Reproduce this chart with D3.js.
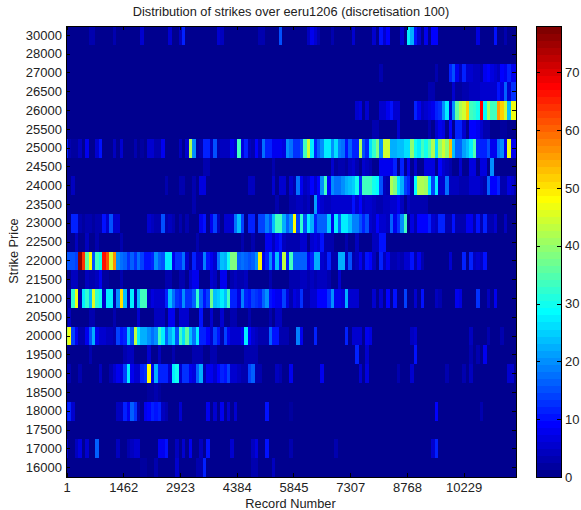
<!DOCTYPE html>
<html>
<head>
<meta charset="utf-8">
<script src="https://cdn.jsdelivr.net/npm/d3@7/dist/d3.min.js"></script>
<style>
  html, body { margin: 0; background: #fff; }
  text { font-family: "Liberation Sans", Arial, sans-serif; fill: #222; }
</style>
</head>
<body>
<div id="graph"></div>
<script>
// strike rows, top to bottom
var strikes = [30000, 28000, 27000, 26500, 26000, 25500, 25000, 24500, 24000, 23500, 23000, 22500,
               22000, 21500, 21000, 20500, 20000, 19500, 19000, 18500, 18000, 17500, 17000, 16000];
var recordTicks = [1, 1462, 2923, 4384, 5845, 7307, 8768, 10229];
var colorTicks = [0, 10, 20, 30, 40, 50, 60, 70];
var nCols = 131, maxCount = 78, lastRecord = 11578;

// [column, count], anything not listed is background
var s30000 = [[7,3],[8,3],[14,3],[22,6],[30,5],[33,4],[34,12],[44,5],[45,4],[56,3],[57,3],[62,15],[70,4],[71,8],[72,5],[73,3],[77,3],[83,6],[89,5],[91,10],[92,5],[93,9],[97,5],[99,27],[100,23],[101,10],[102,6],[104,8],[106,9],[107,9],[119,7],[124,10],[127,3]];
var s28000 = [];
var s27000 = [[91,3],[107,3],[111,11],[112,15],[113,8],[114,4],[115,11],[116,5],[117,5],[118,4],[119,4],[120,3],[121,8],[122,9],[123,7],[124,6],[125,4],[126,9],[127,8],[128,12],[129,8],[130,8]];
var s26500 = [[105,3],[106,3],[112,5],[113,2],[114,2],[115,3],[116,3],[117,4],[118,4],[119,4],[120,5],[121,5],[122,5],[123,6],[124,6],[125,10],[126,7],[127,16],[128,6],[129,13],[130,13]];
var s26000 = [[84,5],[85,7],[87,5],[91,5],[92,6],[93,8],[94,10],[95,6],[96,5],[101,12],[102,8],[103,4],[104,5],[105,7],[106,8],[107,12],[108,13],[109,20],[110,27],[111,5],[112,20],[113,36],[114,42],[115,44],[116,52],[117,34],[118,32],[119,30],[120,68],[121,29],[122,41],[123,34],[124,33],[125,55],[126,52],[127,44],[128,24],[129,47],[130,47]];
var s25500 = [[89,3],[90,3],[96,5],[105,3],[107,5],[108,8],[109,7],[111,9],[113,11],[114,11],[115,6],[117,9],[118,9],[119,8],[120,6],[121,3],[122,3],[126,2],[127,2]];
var s25000 = [[0,11],[1,3],[2,2],[3,2],[4,4],[6,8],[9,6],[10,10],[14,4],[16,6],[20,3],[22,2],[24,5],[25,5],[26,3],[27,3],[28,8],[33,4],[35,6],[36,42],[37,20],[38,2],[39,3],[40,11],[41,12],[42,4],[43,15],[44,3],[45,4],[46,4],[47,4],[48,8],[49,6],[50,34],[51,7],[52,11],[53,4],[54,3],[55,9],[56,4],[57,18],[58,11],[59,11],[60,8],[61,8],[62,8],[63,7],[64,20],
  [65,18],[66,13],[67,13],[68,15],[69,33],[70,45],[71,28],[72,12],[73,17],[74,20],[75,28],[76,27],[77,20],[78,26],[79,19],[80,18],[81,10],[82,17],[83,11],[84,11],[85,42],[86,15],[87,12],[88,26],[89,32],[90,38],[91,20],[92,45],[93,45],[94,22],[95,22],[96,24],[97,24],[98,26],[99,26],[100,40],[101,30],[102,28],[103,33],[104,30],[105,35],[106,42],[107,26],[108,40],[109,44],[110,40],[111,53],[112,24],[113,17],[114,17],[115,21],[116,24],[117,28],[118,35],[119,11],[120,11],[121,11],[122,15],[123,8],[124,8],[125,18],[126,20],[127,8],[128,47],[129,8],[130,8]];
var s24500 = [[40,3],[41,3],[60,3],[77,6],[78,2],[79,3],[80,3],[81,2],[82,4],[83,5],[84,3],[86,6],[87,4],[88,3],[91,8],[92,8],[93,8],[94,8],[95,12],[97,12],[99,8],[101,5],[104,7],[105,7],[106,7],[108,9],[109,5],[110,4],[111,3],[114,5],[117,7],[118,7],[120,7],[121,7],[123,20]];
var s24000 = [[2,4],[29,3],[33,3],[34,3],[37,3],[39,7],[40,7],[53,4],[54,4],[60,5],[62,6],[63,6],
  [65,6],[66,3],[67,18],[68,8],[69,4],[70,5],[71,9],[72,6],[73,9],[74,20],[75,34],[76,9],[77,20],[78,18],[79,18],[80,20],[81,22],[82,24],[83,25],[84,30],[85,13],[86,33],[87,34],[88,33],[89,30],[90,29],[91,15],[92,4],[93,3],[94,42],[95,38],[96,27],[97,22],[98,14],[99,12],[100,3],[101,29],[102,42],[103,42],[104,41],[105,28],[106,14],[107,28],[108,5],[109,6],[110,18],[111,4],[112,4],[113,4],[114,3],[115,3],[116,3],[117,5],[118,6],[119,5],[120,4],[121,3],[122,16],[123,9],[124,9],[125,12],[126,3],[127,3],[128,7],[129,5],[130,3]];
var s23500 = [[37,3],[61,3],[65,3],[66,3],[67,4],[68,4],[69,3],[70,4],[72,21],[73,8],[74,6],[75,4],[76,4],[77,6],[78,6],[79,6],[80,6],[81,5],[82,5],[83,10],[84,6],[85,9],[86,4],[87,5],[88,5],[89,4],[90,3],[91,3],[92,4],[93,4],[94,5],[95,6],[96,8],[97,4],[99,4],[100,3],[101,3],[102,3],[103,3],[104,3]];
var s23000 = [[2,11],[3,11],[4,3],[5,2],[6,3],[7,3],[8,2],[9,3],[10,3],[11,10],[12,5],[13,15],[14,6],[15,5],[24,5],[25,4],[26,3],[27,3],[28,15],[29,3],[30,4],[31,3],[33,3],[35,3],[39,8],[40,10],[42,8],[43,14],[44,4],[46,6],[47,6],[48,5],[49,18],[50,24],[51,14],[53,12],[54,12],[56,14],[57,14],[58,19],[59,15],[60,24],[61,33],[62,33],[63,22],[64,17],
  [65,20],[66,48],[67,14],[68,32],[69,15],[70,27],[71,23],[72,12],[73,16],[74,17],[75,17],[76,25],[77,8],[78,27],[79,17],[80,27],[81,28],[82,24],[83,19],[84,19],[85,15],[86,12],[87,15],[88,5],[89,4],[90,9],[91,6],[92,5],[93,4],[94,17],[95,8],[96,13],[97,20],[98,33],[100,7],[101,3],[102,9],[103,9],[104,9],[105,12],[106,5],[107,4],[108,11],[109,11],[110,3],[111,3],[112,10],[113,3],[114,3],[115,3],[116,8],[117,8],[118,3],[119,10],[120,3],[121,11],[122,3],[123,3],[124,5],[127,4]];
var s22500 = [[3,4],[6,4],[9,3],[16,3],[38,3],[51,3],[54,3],[58,8],[59,8],[60,4],[61,8],[62,10],[63,4],[64,3],[65,3],[66,3],[67,3],[68,6],[69,6],[71,6],[72,7],[73,6],[74,10],[75,3],[76,3],[77,3],[81,3],[84,4],[89,4],[90,4],[91,10],[92,10]];
var s22000 = [[0,15],[1,15],[2,15],[3,14],[4,76],[5,64],[6,36],[7,48],[8,15],[9,33],[10,30],[11,67],[12,62],[13,44],[14,57],[15,20],[16,18],[17,16],[18,13],[19,16],[20,13],[21,18],[22,14],[23,10],[24,10],[25,12],[26,20],[27,17],[28,15],[29,28],[30,28],[31,8],[32,13],[33,13],[34,18],[35,6],[36,2],[37,11],[38,5],[39,5],[40,19],[41,10],[42,8],[43,6],[44,18],[45,24],[46,23],[47,30],[48,38],[49,38],[50,17],[51,18],[52,17],[53,15],[54,17],[55,20],[56,49],[57,8],[58,11],[59,20],[60,10],[61,24],[62,11],[63,43],[64,12],
  [65,34],[66,17],[67,17],[68,17],[69,17],[70,8],[71,11],[72,22],[73,22],[74,6],[75,4],[76,11],[77,3],[78,3],[79,22],[80,22],[81,4],[82,15],[83,3],[84,4],[85,8],[86,3],[87,10],[88,9],[89,4],[91,11],[92,4],[93,8],[94,3],[95,3],[96,4],[97,3],[98,5],[99,5],[100,10],[101,3],[102,8],[103,3],[111,5],[115,12],[117,11],[118,4],[119,6],[120,4],[121,10]];
var s21500 = [[2,4],[3,4],[6,4],[7,3],[8,3],[9,4],[10,8],[11,2],[12,2],[16,3],[29,3],[30,3],[33,3],[34,3],[36,5],[37,8],[38,8],[42,5],[43,4],[45,8],[46,8],[48,3],[49,4],[50,3],[51,3],[52,4],[59,3],[65,3],[66,3],[67,3],[68,4],[69,4],[70,3],[71,4],[72,3],[73,4],[74,4],[75,4],[76,3],[79,5]];
var s21000 = [[0,2],[1,2],[2,32],[3,47],[4,3],[5,27],[6,32],[7,24],[8,46],[9,32],[10,30],[11,5],[12,28],[13,28],[14,3],[15,20],[16,50],[17,24],[18,3],[19,28],[20,3],[21,24],[22,34],[23,34],[24,4],[25,7],[26,6],[27,6],[28,6],[29,11],[30,24],[31,18],[32,13],[33,12],[34,20],[35,13],[36,13],[37,16],[38,32],[39,17],[40,10],[41,14],[42,37],[43,24],[44,25],[45,28],[46,24],[47,33],[48,11],[49,11],[50,7],[51,19],[52,12],[53,10],[54,14],[55,13],[56,12],[57,16],[58,20],[59,10],[60,9],[61,8],[62,8],[63,14],[64,7],
  [65,3],[66,7],[67,5],[68,13],[69,3],[70,3],[71,6],[72,5],[73,9],[74,9],[75,9],[76,13],[77,20],[78,8],[79,8],[80,7],[81,22],[82,6],[83,6],[84,5],[89,6],[91,5],[93,9],[95,10],[98,14],[101,5],[103,10],[107,4],[108,3],[113,8],[114,7],[119,13],[122,4],[124,8]];
var s20500 = [[1,4],[7,3],[8,3],[14,3],[21,6],[26,4],[27,4],[28,4],[30,8],[31,8],[33,5],[34,5],[35,5],[39,10],[42,5],[45,6],[48,3],[49,3],[53,3],[59,3],[61,4],[62,4]];
var s20000 = [[0,42],[1,47],[2,14],[3,8],[4,3],[5,3],[6,8],[7,15],[8,22],[9,8],[10,6],[11,5],[12,4],[13,4],[14,3],[15,14],[16,10],[17,12],[18,24],[19,15],[20,43],[21,27],[22,22],[23,22],[24,20],[25,18],[26,20],[27,33],[28,28],[29,17],[30,22],[31,26],[32,15],[33,34],[34,26],[35,36],[36,24],[37,18],[38,28],[39,12],[40,12],[41,9],[42,5],[43,14],[44,10],[45,3],[46,14],[47,8],[48,6],[49,6],[50,6],[51,8],[52,28],[53,9],[54,5],[55,4],[56,3],[57,3],[58,3],[59,17],[60,10],[61,10],[62,3],[63,3],[64,3],
  [67,19],[68,8],[72,12],[81,11],[83,5],[84,6],[85,5],[87,8],[88,7],[100,4],[101,5],[117,4],[122,3],[126,3]];
var s19500 = [[7,3],[17,3],[18,4],[19,4],[24,5],[27,4],[31,3],[37,3],[38,3],[39,3],[42,3],[43,3],[52,3],[53,3],[54,3],[55,3],[84,11],[87,5],[101,10],[117,3],[119,3],[121,8]];
var s19000 = [[0,3],[1,3],[4,3],[10,4],[13,3],[14,5],[15,8],[16,7],[17,14],[18,28],[19,8],[20,5],[21,5],[22,11],[23,13],[24,48],[25,8],[26,22],[27,12],[28,12],[29,12],[30,6],[31,28],[32,30],[33,5],[34,13],[35,13],[36,8],[37,7],[38,16],[39,22],[40,3],[41,8],[42,8],[43,6],[44,9],[45,11],[46,10],[47,14],[48,6],[49,5],[50,4],[51,3],[52,3],[53,14],[54,16],[55,3],[56,3],[61,4],[62,3],[65,8],[74,8],[85,6],[87,7],[96,3],[100,5],[110,3],[115,3],[117,4],[128,5],[129,5]];
var s18500 = [[24,2],[25,2],[26,3],[27,2]];
var s18000 = [[0,10],[1,12],[2,5],[15,4],[16,4],[17,12],[18,8],[19,16],[20,13],[21,3],[23,8],[24,9],[25,12],[26,10],[27,12],[28,4],[29,3],[33,5],[41,8],[43,6],[45,8],[47,5],[49,6],[58,10],[65,2],[107,9],[120,3]];
var s17500 = [];
var s17000 = [[0,5],[3,4],[4,7],[6,6],[9,16],[15,4],[18,3],[19,4],[20,6],[21,6],[27,8],[28,8],[29,10],[32,4],[34,5],[36,8],[39,4],[41,10],[48,6],[54,4],[55,7],[58,10],[65,3],[78,3],[106,6],[107,12]];
var s16000 = [[22,2],[23,2],[26,3],[32,5],[38,3],[39,3],[40,11],[54,3],[55,3],[60,4]];

var rows = [s30000, s28000, s27000, s26500, s26000, s25500, s25000, s24500, s24000, s23500, s23000, s22500,
            s22000, s21500, s21000, s20500, s20000, s19500, s19000, s18500, s18000, s17500, s17000, s16000];

var plot = {left: 66, top: 26, right: 516, bottom: 477};
var bar = {left: 536, right: 561};
var cellW = (plot.right - plot.left) / (nCols - 1);

// matlab jet with 64 levels
var clamp = function(v){ return Math.max(0, Math.min(1, v)); };
var jet = d3.range(1, 65).map(function(i){
  var v = i / 64;
  return d3.rgb(255 * clamp(Math.min(4*v - 1.5, 4.5 - 4*v)),
                255 * clamp(Math.min(4*v - 0.5, 3.5 - 4*v)),
                255 * clamp(Math.min(4*v + 0.5, 2.5 - 4*v))).formatHex();
});
var color = d3.scaleQuantize().domain([0, maxCount]).range(jet);

var colScale = d3.scaleLinear().domain([0, nCols - 1]).range([plot.left, plot.right]);
var recScale = d3.scaleLinear().domain([1, lastRecord]).range([plot.left + 0.5, plot.right]);
var rowScale = d3.scaleBand().domain(strikes).range([plot.top, plot.bottom]);
var barScale = d3.scaleLinear().domain([0, maxCount]).range([plot.bottom, plot.top]);

var vis = d3.select('#graph').append('svg').attr('width', 581).attr('height', 510).style('display', 'block');

vis.append('clipPath').attr('id', 'plotClip').append('rect')
  .attr('x', plot.left).attr('y', plot.top)
  .attr('width', plot.right - plot.left).attr('height', plot.bottom - plot.top);

// heat map
var cells = [];
rows.forEach(function(row, r){
  var counts = d3.range(nCols).map(function(){ return 0; });
  row.forEach(function(p){ counts[p[0]] = p[1]; });
  counts.forEach(function(c, k){ cells.push({strike: strikes[r], col: k, count: c}); });
});

vis.append('g').attr('clip-path', 'url(#plotClip)').attr('shape-rendering', 'crispEdges')
  .selectAll('rect').data(cells).enter().append('rect')
  .attr('x', function(d){ return colScale(d.col) - cellW / 2; })
  .attr('y', function(d){ return rowScale(d.strike); })
  .attr('width', cellW + 0.5)
  .attr('height', rowScale.bandwidth() + 0.5)
  .attr('fill', function(d){ return color(d.count); });

// colorbar
vis.append('g').attr('shape-rendering', 'crispEdges')
  .selectAll('rect').data(jet).enter().append('rect')
  .attr('x', bar.left)
  .attr('width', bar.right - bar.left)
  .attr('y', function(d, i){ return barScale((i + 1) * maxCount / 64); })
  .attr('height', (plot.bottom - plot.top) / 64 + 0.5)
  .attr('fill', function(d){ return d; });

var styleAxis = function(g, fontSize){
  g.select('.domain').remove();
  g.selectAll('line').attr('stroke', '#000').attr('shape-rendering', 'crispEdges');
  g.selectAll('text').attr('font-size', fontSize).attr('fill', '#222')
    .attr('font-family', '"Liberation Sans", Arial, sans-serif');
};

var tick = 4;
vis.append('g').attr('transform', 'translate(0,' + plot.bottom + ')')
  .call(d3.axisBottom(recScale).tickValues(recordTicks).tickFormat(d3.format('d')).tickSize(-tick).tickPadding(6))
  .call(styleAxis, 13);
vis.append('g').attr('transform', 'translate(0,' + plot.top + ')')
  .call(d3.axisTop(recScale).tickValues(recordTicks).tickFormat('').tickSize(-tick))
  .call(styleAxis, 13);
vis.append('g').attr('transform', 'translate(' + plot.left + ',0)')
  .call(d3.axisLeft(rowScale).tickFormat(d3.format('d')).tickSize(-tick).tickPadding(4))
  .call(styleAxis, 13);
vis.append('g').attr('transform', 'translate(' + plot.right + ',0)')
  .call(d3.axisRight(rowScale).tickFormat('').tickSize(-tick))
  .call(styleAxis, 13);
vis.append('g').attr('transform', 'translate(' + bar.left + ',0)')
  .call(d3.axisLeft(barScale).tickValues(colorTicks).tickFormat('').tickSize(-tick))
  .call(styleAxis, 13);
vis.append('g').attr('transform', 'translate(' + bar.right + ',0)')
  .call(d3.axisRight(barScale).tickValues(colorTicks).tickSize(-tick).tickPadding(4))
  .call(styleAxis, 13);

// frames
[[plot.left, plot.right], [bar.left, bar.right]].forEach(function(f){
  vis.append('rect').attr('x', f[0]).attr('y', plot.top)
    .attr('width', f[1] - f[0]).attr('height', plot.bottom - plot.top)
    .attr('fill', 'none').attr('stroke', '#000').attr('shape-rendering', 'crispEdges');
});

vis.append('text').attr('x', 291).attr('y', 16).attr('text-anchor', 'middle').attr('font-size', 12.8)
  .text('Distribution of strikes over eeru1206 (discretisation 100)');
vis.append('text').attr('x', 290.5).attr('y', 508).attr('text-anchor', 'middle').attr('font-size', 12.8)
  .text('Record Number');
vis.append('text').attr('transform', 'translate(18,251) rotate(-90)').attr('text-anchor', 'middle').attr('font-size', 12.8)
  .text('Strike Price');
</script>
</body>
</html>
